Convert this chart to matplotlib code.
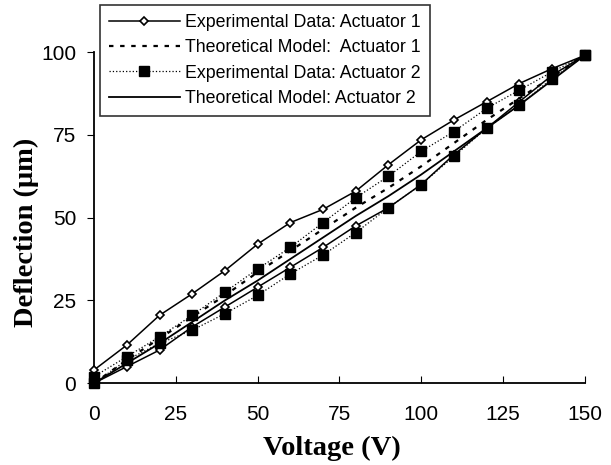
import matplotlib.pyplot as plt

# Voltage sweep (V)
volts = [0, 10, 20, 30, 40, 50, 60, 70, 80, 90, 100, 110, 120, 130, 140, 150]

# Actuator 1 - experimental (lower branch = increasing voltage, upper = decreasing)
act1_up = [0, 5, 10, 17, 23, 29, 35, 41, 47.5, 53, 60, 69, 77, 85, 93, 99]
act1_down = [4, 11.5, 20.5, 27, 34, 42, 48.5, 52.5, 58, 66, 73.5, 79.5, 85, 90.5, 95, 99]

# Actuator 2 - experimental
act2_up = [0, 7, 12, 16, 21, 26.5, 33, 38.7, 45.5, 53, 60, 68.5, 77, 84, 92, 99]
act2_down = [2, 8, 14, 20.5, 27.5, 34.5, 41, 48.5, 56, 62.5, 70, 76, 83, 88.5, 94, 99]

# Theoretical models
theory1 = [0, 7, 13.5, 20, 26.5, 33.5, 40, 46.5, 53, 59, 65.5, 72.5, 79.5, 86, 92.5, 99]
theory2 = [0, 6, 12, 18.5, 25, 31, 37.5, 44, 50.5, 56.5, 63, 70, 77, 84, 91.5, 99]

x_ticks = [0, 25, 50, 75, 100, 125, 150]
y_ticks = [0, 25, 50, 75, 100]

plt.rcParams['font.family'] = ['Liberation Sans', 'DejaVu Sans']

fig = plt.figure(figsize=(6.11, 4.65), dpi=100)
ax = fig.add_axes([0.154, 0.176, 0.803, 0.712])

# full loops: up sweep then back down
loop_v = volts + volts[::-1]
loop1 = act1_up + act1_down[::-1]
loop2 = act2_up + act2_down[::-1]

ax.plot(loop_v, loop1, color='black', lw=1.1, marker='D', markersize=4,
        markerfacecolor='white', markeredgecolor='black', markeredgewidth=1.2,
        label='Experimental Data: Actuator 1', clip_on=False, zorder=4)
ax.plot(volts, theory1, color='black', lw=1.6, linestyle=(0, (2, 3)),
        label='Theoretical Model:  Actuator 1', zorder=3)
ax.plot(loop_v, loop2, color='black', lw=0.9, linestyle=':', marker='s',
        markersize=6.5, markerfacecolor='black', markeredgecolor='black',
        label='Experimental Data: Actuator 2', clip_on=False, zorder=5)
ax.plot(volts, theory2, color='black', lw=1.3,
        label='Theoretical Model: Actuator 2', zorder=3)

ax.set_xlim(0, 150)
ax.set_ylim(0, 100)
ax.set_xticks(x_ticks)
ax.set_yticks(y_ticks)
ax.tick_params(axis='x', direction='in', length=5, labelsize=15, pad=16)
ax.tick_params(axis='y', direction='out', length=5, labelsize=15, pad=8)

for side in ['top', 'right']:
    ax.spines[side].set_visible(False)
for side in ['left', 'bottom']:
    ax.spines[side].set_linewidth(1.3)

ax.set_xlabel('Voltage (V)', fontsize=20.5, fontweight='bold',
              family='Liberation Serif')
ax.xaxis.set_label_coords(0.485, -0.158)
ax.set_ylabel('Deflection (\u03bcm)', fontsize=20.5, fontweight='bold',
              family='Liberation Serif')
ax.yaxis.set_label_coords(-0.112, 0.456)

leg = ax.legend(loc='upper left', bbox_to_anchor=(0.012, 1.142), fontsize=12.8,
                handlelength=4.0, handletextpad=0.3, labelspacing=0.47,
                frameon=True, fancybox=False, borderpad=0.5, borderaxespad=0)
leg.get_frame().set_edgecolor('black')
leg.get_frame().set_linewidth(1.2)

fig.savefig('out.png', dpi=100)
